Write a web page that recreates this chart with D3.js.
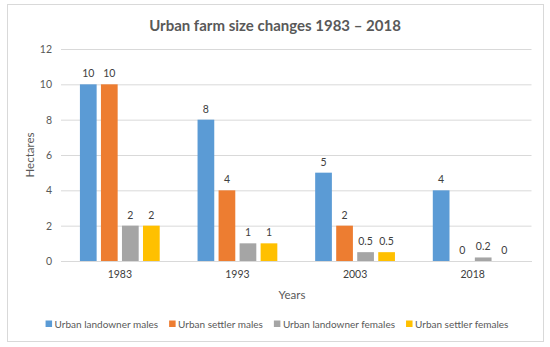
<!DOCTYPE html>
<html>
<head>
<meta charset="utf-8">
<script src="https://cdn.jsdelivr.net/npm/d3@7"></script>
<style>
  body { margin: 0; background: #fff; }
  text { font-family: Lato, "Open Sans", sans-serif; }
</style>
</head>
<body>
<svg id="chart" width="550" height="347"></svg>
<script>
// data
var years = ["1983", "1993", "2003", "2018"]
var seriesNames = ["Urban landowner males", "Urban settler males", "Urban landowner females", "Urban settler females"]
var landownerMales = [10, 8, 5, 4]
var settlerMales = [10, 4, 2, 0]
var landownerFemales = [2, 1, 0.5, 0.2]
var settlerFemales = [2, 1, 0.5, 0]
var yTicks = [0, 2, 4, 6, 8, 10, 12]

var colors = ["#5B9BD5", "#ED7D31", "#A5A5A5", "#FFC000"]
var allSeries = [landownerMales, settlerMales, landownerFemales, settlerFemales]

var width = 550, height = 347
var margin = {top: 49, right: 18.5, bottom: 86, left: 61}

const svg = d3.select("#chart")

// outer frame
svg.append("rect")
  .attr("x", 7.5).attr("y", 4.5)
  .attr("width", 536).attr("height", 337)
  .attr("fill", "#fff")
  .attr("stroke", "#d9d9d9")

svg.append("text")
  .attr("x", 275).attr("y", 31)
  .attr("text-anchor", "middle")
  .attr("font-size", 15).attr("font-weight", "bold")
  .attr("fill", "#595959")
  .text("Urban farm size changes 1983 – 2018")

var x0 = d3.scaleBand()
  .domain(years)
  .range([margin.left, width - margin.right])

var x1 = d3.scaleBand()
  .domain(d3.range(seriesNames.length))
  .range([0, x0.bandwidth()])
  .paddingInner(0.205)
  .paddingOuter(0.9)

var y = d3.scaleLinear()
  .domain([0, 12])
  .range([height - margin.bottom, margin.top])

// gridlines + y labels
var yAxis = g => g
  .attr("transform", `translate(${margin.left},0)`)
  .call(d3.axisLeft(y).tickValues(yTicks).tickSize(-(width - margin.left - margin.right)).tickPadding(9))
  .call(g => g.select(".domain").remove())
  .call(g => g.selectAll(".tick line").attr("stroke", "#d9d9d9"))
  .call(g => g.selectAll(".tick text").attr("fill", "#595959").attr("font-size", 10.5))

svg.append("g").call(yAxis)

var xAxis = g => g
  .attr("transform", `translate(0,${height - margin.bottom})`)
  .call(d3.axisBottom(x0).tickSize(0).tickPadding(10))
  .call(g => g.select(".domain").attr("stroke", "#d9d9d9"))
  .call(g => g.selectAll(".tick text").attr("fill", "#404040").attr("font-size", 10.5))

svg.append("g").call(xAxis)

// bars
var rows = years.map((yr, i) => ({year: yr, values: allSeries.map((s, k) => ({k: k, v: s[i]}))}))

const groups = svg.append("g")
  .selectAll("g")
  .data(rows)
  .join("g")
    .attr("transform", d => `translate(${x0(d.year)},0)`)

groups.selectAll("rect")
  .data(d => d.values)
  .join("rect")
    .attr("x", d => x1(d.k))
    .attr("y", d => y(d.v))
    .attr("width", x1.bandwidth())
    .attr("height", d => y(0) - y(d.v))
    .attr("fill", d => colors[d.k])

groups.selectAll("text.val")
  .data(d => d.values)
  .join("text")
    .attr("class", "val")
    .attr("x", d => x1(d.k) + x1.bandwidth() / 2)
    .attr("y", d => y(d.v) - 7)
    .attr("text-anchor", "middle")
    .attr("font-size", 10.5)
    .attr("fill", "#404040")
    .text(d => d.v)

// axis titles
svg.append("text")
  .attr("transform", `translate(34,${(margin.top + height - margin.bottom) / 2}) rotate(-90)`)
  .attr("text-anchor", "middle")
  .attr("font-size", 11.5)
  .attr("fill", "#595959")
  .text("Hectares")

svg.append("text")
  .attr("x", 292).attr("y", 299)
  .attr("text-anchor", "middle")
  .attr("font-size", 11.5)
  .attr("fill", "#595959")
  .text("Years")

// legend
const legend = svg.append("g")
var lx = 0
seriesNames.forEach((name, i) => {
  var item = legend.append("g").attr("transform", `translate(${lx},0)`)
  item.append("rect").attr("x", 0).attr("y", -3.5).attr("width", 6.5).attr("height", 6.5).attr("fill", colors[i])
  var t = item.append("text").attr("x", 9).attr("y", 4).attr("font-size", 10).attr("fill", "#595959").text(name)
  lx += 9 + t.node().getComputedTextLength() + 11
})
var lw = lx - 11
legend.attr("transform", `translate(${277 - lw / 2},324)`)
</script>
</body>
</html>
